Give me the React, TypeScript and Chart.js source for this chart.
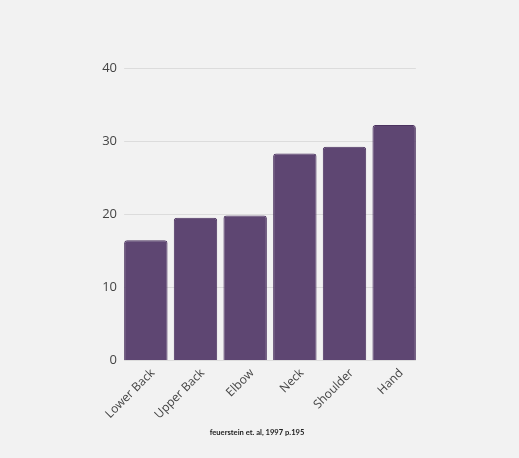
import React, { useEffect, useRef } from "react";
import { Chart, registerables } from "chart.js";

Chart.register(...registerables);

const categories = ["Lower Back", "Upper Back", "Elbow", "Neck", "Shoulder", "Hand"];
const values = [16.4, 19.5, 19.8, 28.3, 29.2, 32.2];
const yTicks = [0, 10, 20, 30, 40];
const caption = "feuerstein et. al, 1997 p.195";

const gridPlugin = {
  id: "insetGrid",
  beforeDatasetsDraw(chart: any) {
    const { ctx, scales } = chart;
    const meta = chart.getDatasetMeta(0);
    const first = meta.data[0] as any;
    const last = meta.data[meta.data.length - 1] as any;
    if (!first || !last) return;
    const x0 = first.x - first.width / 2;
    const x1 = last.x + last.width / 2;
    ctx.save();
    ctx.strokeStyle = "#dcdcdc";
    ctx.lineWidth = 1;
    yTicks.forEach((t) => {
      const y = Math.round(scales.y.getPixelForValue(t)) + 0.5;
      ctx.beginPath();
      ctx.moveTo(x0, y);
      ctx.lineTo(x1, y);
      ctx.stroke();
    });
    ctx.restore();
  },
};

export default function App() {
  const ref = useRef<HTMLCanvasElement>(null);
  useEffect(() => {
    if (!ref.current) return;
    const chart = new Chart(ref.current, {
      type: "bar",
      data: {
        labels: categories,
        datasets: [
          {
            data: values,
            backgroundColor: "#5e4672",
            borderColor: "#4c3360",
            borderWidth: 1,
            borderRadius: 3,
            borderSkipped: "bottom",
            categoryPercentage: 1,
            barPercentage: 0.874,
          },
        ],
      },
      options: {
        animation: false,
        responsive: false,
        devicePixelRatio: 1,
        layout: { padding: { top: 68, right: 100, bottom: 29, left: 0 } },
        plugins: {
          legend: { display: false },
          tooltip: { enabled: false },
        },
        scales: {
          x: {
            grid: { display: false, drawTicks: false, tickLength: 0 },
            border: { display: false },
            ticks: {
              minRotation: 45,
              maxRotation: 45,
              color: "#444",
              font: { family: "Open Sans", size: 12 },
              padding: 6,
              labelOffset: 7,
            },
            afterFit(scale: any) {
              scale.height = 69;
            },
          },
          y: {
            min: 0,
            max: 40,
            grid: { display: false, drawTicks: false, tickLength: 0 },
            border: { display: false },
            ticks: {
              stepSize: 10,
              color: "#444",
              font: { family: "Open Sans", size: 13 },
              padding: 4,
            },
            afterFit(scale: any) {
              scale.width = 121;
            },
          },
        },
      },
      plugins: [gridPlugin],
    });
    return () => chart.destroy();
  }, []);
  return (
    <div
      style={{
        position: "absolute",
        left: 0,
        top: 0,
        width: 519,
        height: 458,
        background: "#f2f2f2",
      }}
    >
      <canvas ref={ref} width={519} height={458} style={{ display: "block" }} />
      <div
        style={{
          position: "absolute",
          left: 0,
          width: 514,
          top: 426,
          textAlign: "center",
          fontFamily: "Lato",
          fontWeight: 700,
          fontSize: 7.6,
          lineHeight: "12px",
          color: "#222",
        }}
      >
        {caption}
      </div>
    </div>
  );
}
